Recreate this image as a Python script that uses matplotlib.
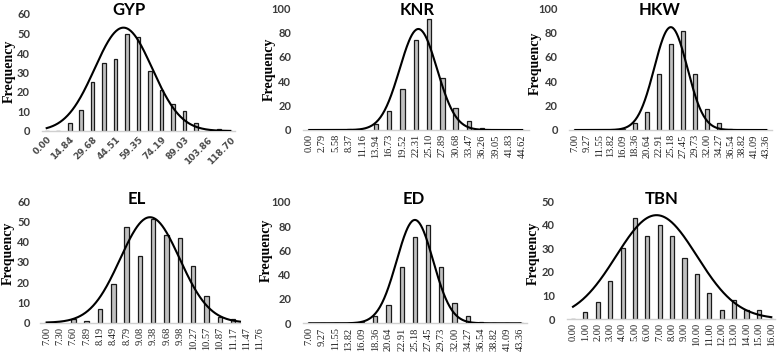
import numpy as np
import matplotlib
matplotlib.use("Agg")
import matplotlib.pyplot as plt

W = 777
H = 355

# ---- data ----
gyp_labels = ["0.00", "14.84", "29.68", "44.51", "59.35", "74.19", "89.03", "103.86", "118.70"]
gyp_freq = [0, 0, 4, 11, 25, 35, 37, 50, 48, 31, 21, 14, 10, 4, 0, 1, 0]

knr_labels = ["0.00", "2.79", "5.58", "8.37", "11.16", "13.94", "16.73", "19.52", "22.31",
              "25.10", "27.89", "30.68", "33.47", "36.26", "39.05", "41.83", "44.62"]
knr_freq = [0, 0, 0, 1, 0, 5, 16, 34, 74, 91, 43, 18, 7, 2, 0, 0, 0]

hkw_labels = ["7.00", "9.27", "11.55", "13.82", "16.09", "18.36", "20.64", "22.91", "25.18",
              "27.45", "29.73", "32.00", "34.27", "36.54", "38.82", "41.09", "43.36"]
hkw_freq = [0, 0, 0, 0, 1, 6, 15, 46, 71, 81, 46, 17, 6, 1, 0, 0, 0]

el_labels = ["7.00", "7.30", "7.60", "7.89", "8.19", "8.49", "8.79", "9.08", "9.38",
             "9.68", "9.98", "10.27", "10.57", "10.87", "11.17", "11.47", "11.76"]
el_freq = [0, 0, 2, 1, 7, 19, 47, 33, 51, 43, 42, 28, 13, 3, 2]

ed_labels = hkw_labels
ed_freq = [0, 0, 0, 0, 1, 6, 15, 46, 71, 81, 46, 17, 6, 1, 0, 0, 0]

tbn_labels = ["0.00", "1.00", "2.00", "3.00", "4.00", "5.00", "6.00", "7.00", "8.00",
              "9.00", "10.00", "11.00", "12.00", "13.00", "14.00", "15.00", "16.00"]
tbn_freq = [0, 3, 7, 16, 30, 43, 35, 40, 35, 26, 19, 11, 4, 8, 4, 4, 0]

# normal curve: centre (category units), spread, height
gyp_curve = (6.69, 2.5, 53)
knr_curve = (8.2, 1.4, 83)
hkw_curve = (8.0, 1.38, 84.5)
el_curve = (7.75, 2.23, 52)
ed_curve = (8.0, 1.38, 85)
tbn_curve = (6.74, 3.26, 44)

GRAY_TXT = "#3a3a3a"

fig = plt.figure(figsize=(W / 100, H / 100), dpi=100)


def make_axes(left, right, top, bottom):
    return fig.add_axes([left / W, 1 - bottom / H, (right - left) / W, (bottom - top) / H])


def panel(ax, freq, labels, curve, ymax, ystep, title, tx, ty, ylab_x, ylab_y,
          pad, xlim, curve_end=16, every=1, rot=90, spine_end=None):
    x = np.arange(len(freq))
    ax.bar(x, freq, width=0.33, color="#c0c0c0", edgecolor="#1a1a1a", linewidth=0.9, zorder=2)
    xs = np.linspace(0, curve_end, 300)
    mu, sd, peak = curve
    ax.plot(xs, peak * np.exp(-(xs - mu) ** 2 / (2 * sd ** 2)), color="black", linewidth=1.5, zorder=3)
    ax.set_xlim(*xlim)
    ax.set_ylim(0, ymax)
    ax.set_yticks(np.arange(0, ymax + 1, ystep))
    ticks = np.arange(0, len(labels) * every, every)
    ax.set_xticks(ticks)
    if rot == 90:
        ax.set_xticklabels(labels, rotation=90, fontsize=7.5, family="Liberation Serif",
                           color="#202020", va="top", ha="center")
    else:
        ax.set_xticklabels(labels, rotation=45, fontsize=6.5, fontweight="bold",
                           color="#4a4a4a", ha="right", va="top", rotation_mode="anchor")
    for lab in ax.get_yticklabels():
        lab.set_fontweight("bold")
        lab.set_family("Lato")
        lab.set_fontsize(8)
        lab.set_color(GRAY_TXT)
    ax.tick_params(axis="both", length=0)
    ax.tick_params(axis="y", pad=pad)
    ax.tick_params(axis="x", pad=3)
    for s in ["top", "right", "left"]:
        ax.spines[s].set_visible(False)
    ax.spines["bottom"].set_color("#d0d0d0")
    ax.spines["bottom"].set_linewidth(1.0)
    if spine_end is not None:
        ax.spines["bottom"].set_bounds(xlim[0], spine_end)
    ax.patch.set_alpha(0)
    fig.text(tx / W, 1 - ty / H, title, fontsize=12, fontweight="bold", family="Lato",
             ha="center", va="center")
    fig.text(ylab_x / W, 1 - ylab_y / H, "Frequency", fontsize=10, fontweight="bold",
             family="Liberation Serif", rotation=90, ha="center", va="center")


ax1 = make_axes(42.1, 234.9, 14, 131)
panel(ax1, gyp_freq, gyp_labels, gyp_curve, 60, 10, "GYP", 129, 10, 9, 71,
      8.7, (-0.4, 16.4), every=2, rot=45)

ax2 = make_axes(302.6, 528.8, 8.3, 130)
panel(ax2, knr_freq, knr_labels, knr_curve, 100, 20, "KNR", 417, 10, 269, 69,
      8.2, (-0.5, 16.5))

ax3 = make_axes(569.3, 772.3, 8.3, 130)
panel(ax3, hkw_freq, hkw_labels, hkw_curve, 100, 20, "HKW", 660, 10, 535, 63,
      8.2, (-0.5, 16.5))

ax4 = make_axes(40, 266.6, 201, 322.7)
panel(ax4, el_freq, el_labels, el_curve, 60, 10, "EL", 137, 199, 8, 253,
      7.2, (-0.5, 16.5), curve_end=14.5, spine_end=14.5)

ax5 = make_axes(302.7, 527.1, 201.7, 323.3)
panel(ax5, ed_freq, ed_labels, ed_curve, 100, 20, "ED", 414, 199, 266, 250,
      8.2, (-0.5, 16.5))

ax6 = make_axes(566.8, 775, 201, 319)
panel(ax6, tbn_freq, tbn_labels, tbn_curve, 50, 10, "TBN", 662, 199, 533, 253,
      8.6, (-0.5, 16.3))

fig.savefig("out.png", dpi=100)
